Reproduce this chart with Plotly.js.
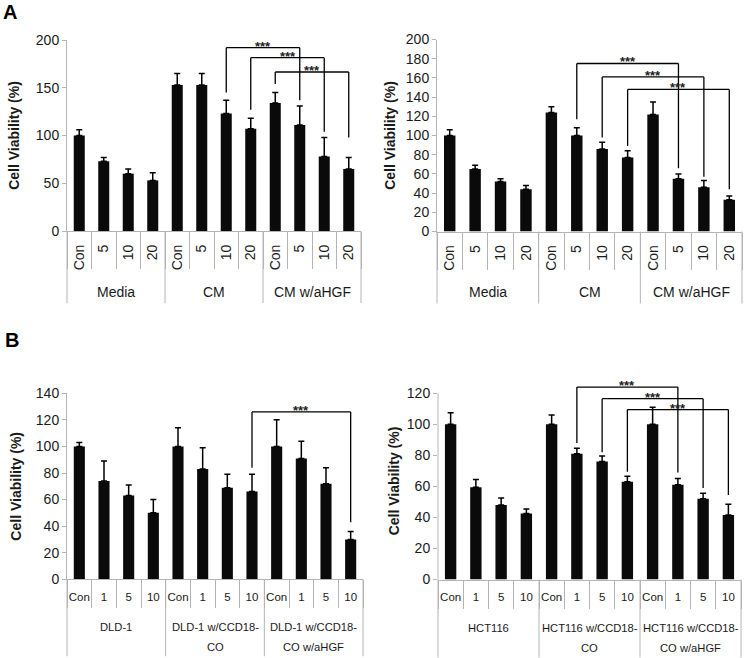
<!DOCTYPE html>
<html>
<head>
<meta charset="utf-8">
<script src="https://cdn.plot.ly/plotly-3.0.1.min.js"></script>
<style>html,body{margin:0;padding:0;background:#fff}#chart{width:744px;height:658px}</style>
</head>
<body>
<div id="chart"></div>
<script>
// ---------- DATA ----------
const groupsA = ['Media', 'CM', 'CM w/aHGF'];
const dosesA = ['Con', '5', '10', '20'];
const groupsB1 = ['DLD-1', 'DLD-1 w/CCD18-<br>CO', 'DLD-1 w/CCD18-<br>CO w/aHGF'];
const groupsB2 = ['HCT116', 'HCT116 w/CCD18-<br>CO', 'HCT116 w/CCD18-<br>CO w/aHGF'];
const dosesB = ['Con', '1', '5', '10'];

const aLeftValues = [100, 73, 60, 53, 153, 153, 123, 107, 134, 111, 78, 65];
const aLeftErrors = [6, 4, 5, 8, 12, 12, 14, 11, 11, 20, 20, 12];
// [from index, to index, bracket height, left leg bottom, right leg bottom]
const aLeftBrackets = [[6, 9, 192, 145, 137], [7, 10, 181.5, 127, 104], [8, 11, 166.5, 154, 98]];

const aRightValues = [100, 65, 52, 44, 124, 100, 86, 77, 122, 55, 46, 33];
const aRightErrors = [6, 4, 3, 4, 6, 8, 7, 7, 13, 5, 7, 4];
const aRightBrackets = [[5, 9, 175, 117, 66], [6, 10, 161, 98, 57], [7, 11, 148, 89, 44]];

const bLeftValues = [100, 74, 63, 50, 100, 83, 69, 66, 100, 91, 72, 30];
const bLeftErrors = [3, 15, 8, 10, 14, 16, 10, 13, 20, 13, 12, 6];
const bLeftBrackets = [[7, 11, 126, 84, 43]];

const bRightValues = [100, 59.5, 48, 42.5, 100, 81, 76, 63, 100, 61, 52, 41.5];
const bRightErrors = [7.5, 5, 4.5, 3, 6, 3.5, 3.5, 3.5, 11, 4, 3.5, 7];
const bRightBrackets = [[5, 9, 124, 88, 69], [6, 10, 116.5, 82, 59], [7, 11, 109.5, 69.5, 54.5]];

const yTitle = 'Cell Viability (%)';
const significance = '***';
const panelLetters = ['A', 'B'];

// ---------- LAYOUT / STYLE ----------
const W = 744, H = 658;
const FONT = 'Liberation Sans, Arial, Helvetica, sans-serif';
const GRAY = '#b4b4b4';
const INK = '#1a1a1a';

const panels = [
  {groups: groupsA, doses: dosesA, values: aLeftValues, errors: aLeftErrors, brackets: aLeftBrackets,
   px: [67, 361], py: [40, 231], yMax: 200, yTop: 200, dtick: 50, standoff: 12,
   tickangle: -90, tickSize: 14, ticklen: 37, labelStandoff: 7, groupSize: 14,
   groupOffsets: [61], dividerLen: 72},
  {groups: groupsA, doses: dosesA, values: aRightValues, errors: aRightErrors, brackets: aRightBrackets,
   px: [437, 742], py: [39.5, 231.5], yMax: 200, yTop: 200, dtick: 20, standoff: 6,
   tickangle: -90, tickSize: 14, ticklen: 37, labelStandoff: 7, groupSize: 14,
   groupOffsets: [61], dividerLen: 72},
  {groups: groupsB1, doses: dosesB, values: bLeftValues, errors: bLeftErrors, brackets: bLeftBrackets,
   px: [67, 363], py: [393.3, 579.3], yMax: 140, yTop: 140, dtick: 20, standoff: 10,
   tickangle: 0, tickSize: 11.5, ticklen: 28, labelStandoff: 7, groupSize: 11.2,
   groupOffsets: [48, 68], dividerLen: 77},
  {groups: groupsB2, doses: dosesB, values: bRightValues, errors: bRightErrors, brackets: bRightBrackets,
   px: [438, 741], py: [382.4, 579.5], yMax: 127, yTop: 120, dtick: 20, standoff: 3,
   tickangle: 0, tickSize: 11.5, ticklen: 28, labelStandoff: 7, groupSize: 11.2,
   groupOffsets: [48, 68], dividerLen: 78}
];

const data = [];
const layout = {
  width: W, height: H,
  margin: {l: 0, r: 0, t: 0, b: 0},
  paper_bgcolor: '#fff', plot_bgcolor: '#fff',
  showlegend: false,
  bargap: 0.55,
  font: {family: FONT, color: INK},
  shapes: [], annotations: []
};

panels.forEach((p, k) => {
  const n = k + 1;
  const xa = 'x' + n, ya = 'y' + n;
  const keys = [], labels = [];
  p.groups.forEach(g => p.doses.forEach(d => { keys.push(g + '|' + d); labels.push(d); }));
  const nCat = keys.length;
  const plotH = p.py[1] - p.py[0];

  data.push({
    type: 'bar', x: keys, y: p.values, xaxis: xa, yaxis: ya,
    marker: {color: '#0a0a0a', line: {width: 0}},
    error_y: {type: 'data', symmetric: false, array: p.errors,
              arrayminus: p.errors.map(() => 0), color: '#000', thickness: 1.5, width: 3},
    hoverinfo: 'skip'
  });

  layout['xaxis' + n] = {
    domain: [p.px[0] / W, p.px[1] / W], anchor: ya,
    type: 'category', categoryorder: 'array', categoryarray: keys,
    tickmode: 'array', tickvals: keys, ticktext: labels,
    tickson: 'boundaries', ticks: 'outside', ticklen: p.ticklen, tickwidth: 1, tickcolor: GRAY,
    ticklabelstandoff: p.labelStandoff,
    tickangle: p.tickangle, tickfont: {size: p.tickSize, color: INK, family: FONT},
    showline: true, linecolor: GRAY, linewidth: 1,
    showgrid: false, zeroline: false, fixedrange: true
  };
  const tv = [];
  for (let v = 0; v <= p.yTop; v += p.dtick) tv.push(v);
  layout['yaxis' + n] = {
    domain: [1 - p.py[1] / H, 1 - p.py[0] / H], anchor: xa,
    range: [0, p.yMax], tickmode: 'array', tickvals: tv,
    ticks: 'outside', ticklen: 4, tickcolor: GRAY, tickwidth: 1,
    showline: p.yMax === p.yTop, linecolor: GRAY, linewidth: 1,
    showgrid: false, zeroline: false, fixedrange: true,
    tickfont: {size: 14, color: INK, family: FONT},
    title: {text: yTitle, standoff: p.standoff, font: {size: 14, family: FONT, color: INK, weight: 'bold'}}
  };
  if (p.yMax !== p.yTop) {
    layout.shapes.push({type: 'line', xref: xa + ' domain', yref: ya, x0: 0, x1: 0, y0: 0, y1: p.yTop,
                        line: {color: GRAY, width: 1}});
  }

  // group dividers and group labels
  const per = p.doses.length;
  for (let gi = 0; gi <= p.groups.length; gi++) {
    layout.shapes.push({type: 'line', xref: xa + ' domain', yref: ya + ' domain',
      x0: gi * per / nCat, x1: gi * per / nCat, y0: 0, y1: -p.dividerLen / plotH,
      line: {color: GRAY, width: 1}});
  }
  p.groups.forEach((g, gi) => {
    g.split('<br>').forEach((line, li) => {
      layout.annotations.push({text: line, xref: xa, yref: ya + ' domain',
        x: gi * per + (per - 1) / 2, y: 0, yshift: -p.groupOffsets[li],
        xanchor: 'center', yanchor: 'middle', showarrow: false,
        font: {size: p.groupSize, color: INK, family: FONT}});
    });
  });

  // significance brackets
  p.brackets.forEach(b => {
    const [i0, i1, h, l0, r0] = b;
    const ln = {color: '#000', width: 1.3};
    layout.shapes.push({type: 'line', xref: xa, yref: ya, x0: i0, x1: i0, y0: l0, y1: h, line: ln});
    layout.shapes.push({type: 'line', xref: xa, yref: ya, x0: i0, x1: i1, y0: h, y1: h, line: ln});
    layout.shapes.push({type: 'line', xref: xa, yref: ya, x0: i1, x1: i1, y0: h, y1: r0, line: ln});
    layout.annotations.push({text: significance, xref: xa, yref: ya, x: (i0 + i1) / 2, y: h,
      xanchor: 'center', yanchor: 'bottom', yshift: -8, showarrow: false,
      font: {size: 13, color: '#222', family: FONT, weight: 'bold'}});
  });
});

// panel letters
layout.annotations.push({text: panelLetters[0], xref: 'paper', yref: 'paper', x: 2 / W, y: 1,
  xanchor: 'left', yanchor: 'top', borderpad: 0, showarrow: false,
  font: {size: 20, family: FONT, color: '#000', weight: 'bold'}});
layout.annotations.push({text: panelLetters[1], xref: 'paper', yref: 'paper', x: 3 / W, y: 1 - 327 / H,
  xanchor: 'left', yanchor: 'top', showarrow: false, font: {size: 20, family: FONT, color: '#000', weight: 'bold'}});

Plotly.newPlot('chart', data, layout, {staticPlot: true, displayModeBar: false});
</script>
</body>
</html>
